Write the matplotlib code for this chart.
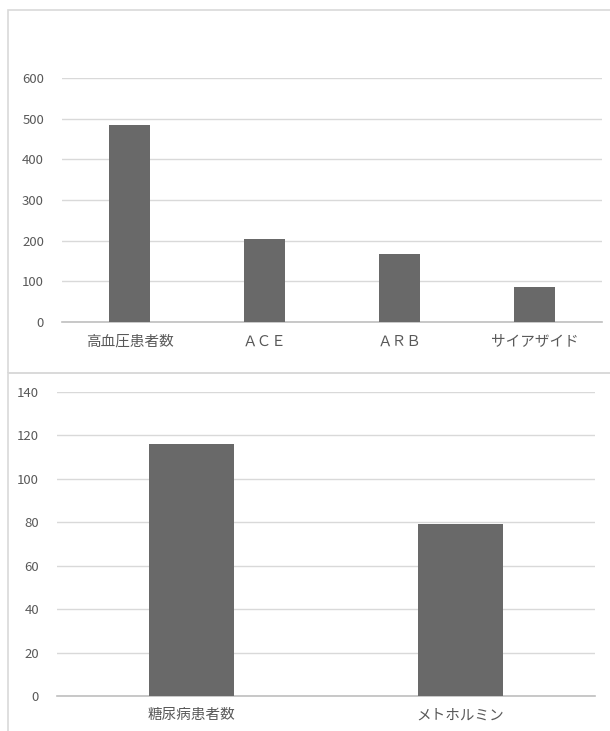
import matplotlib
matplotlib.use("Agg")
import matplotlib.pyplot as plt
from matplotlib.patches import Rectangle
import numpy as np

plt.rcParams['font.family'] = ['Noto Sans CJK JP', 'DejaVu Sans']

# ── data ──
hyp_labels = ["高血圧患者数", "ＡＣＥ", "ＡＲＢ", "サイアザイド"]
hyp_values = [485, 205, 168, 87]
hyp_ticks = [0, 100, 200, 300, 400, 500, 600]

dm_labels = ["糖尿病患者数", "メトホルミン"]
dm_values = [116, 79]
dm_ticks = [0, 20, 40, 60, 80, 100, 120, 140]

W, H = 610, 731
BAR = "#696969"
GRID = "#d9d9d9"
TXT = "#595959"

fig = plt.figure(figsize=(W / 100, H / 100), dpi=100)


def px_axes(x0, y0, x1, y1):
    return fig.add_axes([x0 / W, 1 - y1 / H, (x1 - x0) / W, (y1 - y0) / H])


def draw_bars(ax, labels, values, ticks, width):
    x = np.arange(len(labels))
    ax.bar(x, values, width=width, color=BAR, zorder=3)
    ax.set_xlim(-0.5, len(labels) - 0.5)
    ax.set_ylim(ticks[0], ticks[-1])
    ax.set_yticks(ticks)
    ax.set_xticks(x)
    ax.set_xticklabels(labels)
    ax.grid(axis="y", color=GRID, lw=1.0, zorder=0)
    for s in ["top", "right", "left"]:
        ax.spines[s].set_visible(False)
    ax.spines["bottom"].set_color("#bfbfbf")
    ax.spines["bottom"].set_linewidth(1.2)
    ax.tick_params(length=0, colors=TXT)
    ax.tick_params(axis="y", pad=13, labelsize=9.5)
    ax.tick_params(axis="x", pad=9, labelsize=10.5)
    ax.set_facecolor("none")


# chart frames
fig.patches.append(Rectangle((8 / W, 1 - 373 / H), 1.0, 363 / H,
                             transform=fig.transFigure, fill=False,
                             ec=GRID, lw=1.2))
fig.patches.append(Rectangle((8 / W, -0.1), 1.0, (1 - 373 / H) + 0.1,
                             transform=fig.transFigure, fill=False,
                             ec=GRID, lw=1.2))

ax1 = px_axes(62, 78, 602, 322)
draw_bars(ax1, hyp_labels, hyp_values, hyp_ticks, 0.31)

ax2 = px_axes(57, 392, 595, 696)
draw_bars(ax2, dm_labels, dm_values, dm_ticks, 0.316)

fig.savefig("out.png", dpi=100)
